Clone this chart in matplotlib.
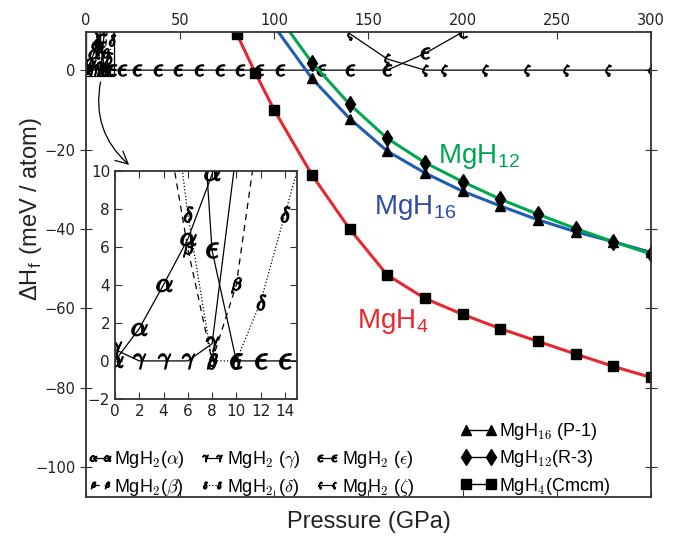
import matplotlib
matplotlib.use("Agg")
import matplotlib.pyplot as plt
from matplotlib.patches import Rectangle

plt.rcParams['font.family'] = ['Liberation Sans', 'DejaVu Sans']
plt.rcParams['mathtext.fontset'] = 'cm'

# MgH2 phases, relative enthalpy (meV/atom) vs pressure (GPa)
p_alpha = [0, 2, 4, 6, 8, 10]
h_alpha = [0.0, 1.7, 4.0, 6.4, 9.8, 14.0]
p_gamma = [0, 2, 4, 6, 8, 10]
h_gamma = [0.6, 0.0, 0.0, 0.0, 0.9, 11.0]
p_beta = [4, 6, 8, 10, 12]
h_beta = [13.4, 5.9, 0.0, 4.0, 13.0]
p_delta = [4, 6, 8, 10, 12, 14, 16]
h_delta = [18.0, 7.7, 0.0, 0.0, 3.1, 7.7, 12.2]
p_eps = [6, 8, 10, 12, 14, 19, 27, 38, 49, 60, 71, 82, 92, 103, 125, 140, 160, 180, 200, 220]
h_eps = [25.0, 5.8, 0, 0, 0, 0, 0, 0, 0, 0, 0, 0, 0, 0, 0, 0, 0, 4.2, 9.6, 15.0]
p_zeta = [140, 160, 180, 190, 212, 234, 255, 277, 300]
h_zeta = [9.2, 2.8, 0, 0, 0, 0, 0, 0, 0]

# hydrogen-rich phases
p_mgh4 = [80, 90, 100, 120, 140, 160, 180, 200, 220, 240, 260, 280, 300]
h_mgh4 = [9.2, -0.8, -10.1, -26.4, -40.0, -51.6, -57.5, -61.5, -65.1, -68.3, -71.5, -74.6, -77.4]
p_mgh16 = [100, 120, 140, 160, 180, 200, 220, 240, 260, 280, 300]
h_mgh16 = [11.0, -2.1, -12.2, -20.4, -25.9, -30.5, -34.2, -37.7, -40.7, -43.2, -45.9]
p_mgh12 = [100, 120, 140, 160, 180, 200, 220, 240, 260, 280, 300]
h_mgh12 = [15.0, 1.9, -8.6, -17.2, -23.3, -28.1, -32.5, -36.3, -39.9, -43.2, -46.3]

red = '#e8262f'
blue = '#1f5db3'
green = '#00a650'
dark = '#333333'

fig = plt.figure(figsize=(6.82, 5.38), dpi=100)
ax = fig.add_axes([0.1261, 0.0762, 0.8284, 0.8643])
axin = fig.add_axes([0.1686, 0.2584, 0.2669, 0.4246])

phases = [
    ('alpha', p_alpha, h_alpha, '-', r'$\alpha$', r'MgH$_2$($\alpha$)'),
    ('beta', p_beta, h_beta, (0, (5, 4)), r'$\beta$', r'MgH$_2$($\beta$)'),
    ('gamma', p_gamma, h_gamma, '-', r'$\gamma$', r'MgH$_2$ ($\gamma$)'),
    ('delta', p_delta, h_delta, ':', r'$\delta$', r'MgH$_2$ ($\delta$)'),
    ('eps', p_eps, h_eps, '-', r'$\epsilon$', r'MgH$_2$ ($\epsilon$)'),
    ('zeta', p_zeta, h_zeta, '-', r'$\zeta$', r'MgH$_2$ ($\zeta$)'),
]

handles1 = []
for name, px, py, ls, mk, lab in phases:
    l, = ax.plot(px, py, color='black', ls=ls, lw=0.9, marker=mk, ms=8, label=lab)
    axin.plot(px, py, color='black', ls=ls, lw=0.9, marker=mk, ms=11)
    handles1.append(l)

l16, = ax.plot(p_mgh16, h_mgh16, color=blue, lw=2.2, marker='^', ms=7,
               mfc='black', mec='black', label=r'MgH$_{16}$ (P-1)')
l12, = ax.plot(p_mgh12, h_mgh12, color=green, lw=2.2, marker='d', ms=8,
               mfc='black', mec='black', label=r'MgH$_{12}$(R-3)')
l4, = ax.plot(p_mgh4, h_mgh4, color=red, lw=2.2, marker='s', ms=7,
              mfc='black', mec='black', label=r'MgH$_4$(Cmcm)')

ax.set_xlim(0, 300)
ax.set_ylim(-107.5, 9.6)
ax.set_xticks(range(0, 301, 50))
ax.set_yticks(range(-100, 1, 20))
ax.tick_params(axis='x', top=True, bottom=True, labeltop=True, labelbottom=False,
               direction='in', length=5, labelsize=10.5, labelcolor='#222222',
               color=dark, pad=3)
ax.tick_params(axis='y', left=True, right=True, direction='inout', length=8,
               labelsize=10.5, labelcolor='#222222', color=dark)
for s in ax.spines.values():
    s.set_color(dark)
    s.set_linewidth(1.3)
for lab in ax.get_xticklabels() + ax.get_yticklabels():
    lab.set_family('DejaVu Sans')

ax.set_xlabel('Pressure (GPa)', fontsize=17, color='#222222')
ax.xaxis.set_label_coords(0.5, -0.03)
ax.set_ylabel(r'ΔH$_\mathregular{f}$ (meV / atom)', fontsize=17, color='#222222')
ax.yaxis.set_label_coords(-0.074, 0.62)

ax.text(187, -21.7, r'MgH$_\mathregular{12}$', color=green, fontsize=20, va='center')
ax.text(153, -34.5, r'MgH$_\mathregular{16}$', color='#2e4ca3', fontsize=20, va='center')
ax.text(144, -63.2, r'MgH$_\mathregular{4}$', color=red, fontsize=20, va='center')

# zoom box and arrow to inset
ax.add_patch(Rectangle((0, -1.4), 15, 12, fill=False, ec='black', lw=0.9))
ax.annotate('', xy=(24, -24.3), xytext=(8, -2.3),
            arrowprops=dict(arrowstyle='->', color='black', lw=0.9,
                            mutation_scale=22,
                            connectionstyle='arc3,rad=0.3'))

axin.set_xlim(0, 15)
axin.set_ylim(-2, 10)
axin.set_xticks(range(0, 15, 2))
axin.set_yticks(range(-2, 11, 2))
axin.tick_params(top=True, right=True, direction='in', length=5,
                 labelsize=11, labelcolor='#222222', color=dark)
for s in axin.spines.values():
    s.set_color(dark)
    s.set_linewidth(1.3)
for lab in axin.get_xticklabels() + axin.get_yticklabels():
    lab.set_family('DejaVu Sans')

leg1 = fig.legend(handles=handles1, loc='lower left', bbox_to_anchor=(0.128, 0.075),
                  ncol=3, frameon=False, fontsize=13, handlelength=1.4,
                  handletextpad=0.1, columnspacing=0.8, labelspacing=0.35,
                  numpoints=2, borderpad=0, borderaxespad=0, markerscale=0.6)
leg2 = fig.legend(handles=[l16, l12, l4], loc='lower left', bbox_to_anchor=(0.675, 0.077),
                  frameon=False, fontsize=13, handlelength=2.0,
                  handletextpad=0.15, labelspacing=0.35, numpoints=2,
                  borderpad=0, borderaxespad=0)
for hl in leg2.legend_handles:
    hl.set_color('black')
    hl.set_linewidth(1.0)

fig.savefig('out.png', dpi=100)
